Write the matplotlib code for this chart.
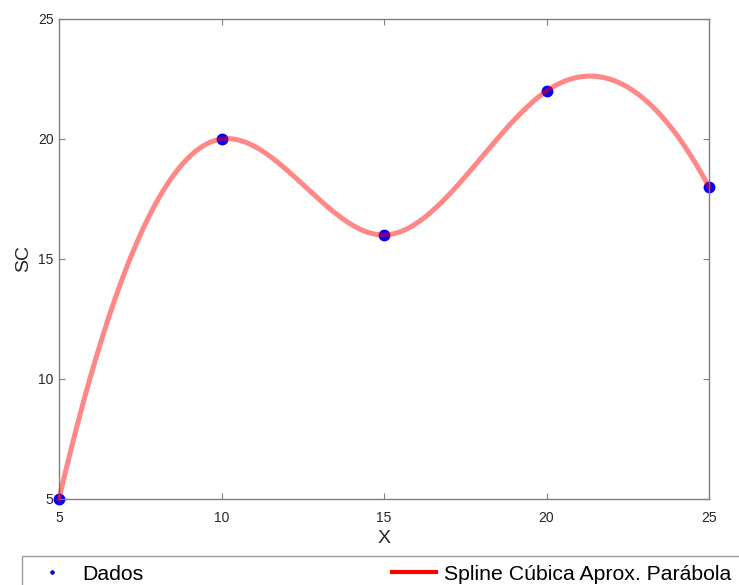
import numpy as np
import matplotlib
matplotlib.use("Agg")
import matplotlib.pyplot as plt
from matplotlib.lines import Line2D

plt.rcParams['font.family'] = ['Liberation Sans', 'DejaVu Sans']

# Data points
x_data = [5, 10, 15, 20, 25]
y_data = [5, 20, 16, 22, 18]

x_ticks = [5, 10, 15, 20, 25]
y_ticks = [5, 10, 15, 20, 25]


def spline_parabolic_runout(x, y, n_per_seg=80):
    """Cubic spline with parabolic runout ends (M0 = M1, Mn = Mn-1)."""
    x = np.asarray(x, float)
    y = np.asarray(y, float)
    n = len(x) - 1
    h = np.diff(x)
    A = np.zeros((n + 1, n + 1))
    b = np.zeros(n + 1)
    A[0, 0], A[0, 1] = 1, -1
    A[n, n], A[n, n - 1] = 1, -1
    for i in range(1, n):
        A[i, i - 1] = h[i - 1]
        A[i, i] = 2 * (h[i - 1] + h[i])
        A[i, i + 1] = h[i]
        b[i] = 6 * ((y[i + 1] - y[i]) / h[i] - (y[i] - y[i - 1]) / h[i - 1])
    M = np.linalg.solve(A, b)
    xs, ys = [], []
    for i in range(n):
        t = np.linspace(x[i], x[i + 1], n_per_seg)
        a = x[i + 1] - t
        c = t - x[i]
        s = (M[i] * a**3 + M[i + 1] * c**3) / (6 * h[i]) \
            + (y[i] / h[i] - M[i] * h[i] / 6) * a \
            + (y[i + 1] / h[i] - M[i + 1] * h[i] / 6) * c
        xs.append(t)
        ys.append(s)
    return np.concatenate(xs), np.concatenate(ys)


xs, ys = spline_parabolic_runout(x_data, y_data)

fig = plt.figure(figsize=(7.39, 5.85), dpi=100)
ax = fig.add_axes([59 / 739, 86 / 585, 650 / 739, 480 / 585])

ax.plot(x_data, y_data, 'o', color='blue', markersize=7.5, zorder=2, clip_on=False)
ax.plot(xs, ys, '-', color='red', alpha=0.47, linewidth=3.6, zorder=3, clip_on=False)

ax.set_xlim(5, 25)
ax.set_ylim(5, 25)
ax.set_xticks(x_ticks)
ax.set_yticks(y_ticks)
ax.tick_params(direction='in', length=4, width=0.8, colors='#808080',
               labelcolor='#262626', labelsize=10, top=True, right=True, pad=4)
ax.tick_params(axis='x', pad=9)
for sp in ax.spines.values():
    sp.set_color('#808080')
    sp.set_linewidth(1.0)

ax.set_xlabel('X', fontsize=14, color='#262626', labelpad=3)
ax.set_ylabel('SC', fontsize=14, color='#262626', labelpad=4)

handles = [Line2D([], [], marker='.', linestyle='none', color='blue', markersize=4.5),
           Line2D([], [], color='red', linewidth=3.0)]
labels = ['Dados', 'Spline Cúbica Aprox. Parábola']
leg = fig.legend(handles, labels, loc='upper left', ncol=2,
                 bbox_to_anchor=(22 / 739, 1 - 556 / 585),
                 fontsize=15.3, frameon=True, fancybox=False,
                 edgecolor='#808080', borderaxespad=0, handlelength=2.07,
                 handletextpad=0.38, borderpad=0.4, columnspacing=11.7)
leg.get_frame().set_linewidth(1.0)

fig.savefig('out.png', dpi=100)
